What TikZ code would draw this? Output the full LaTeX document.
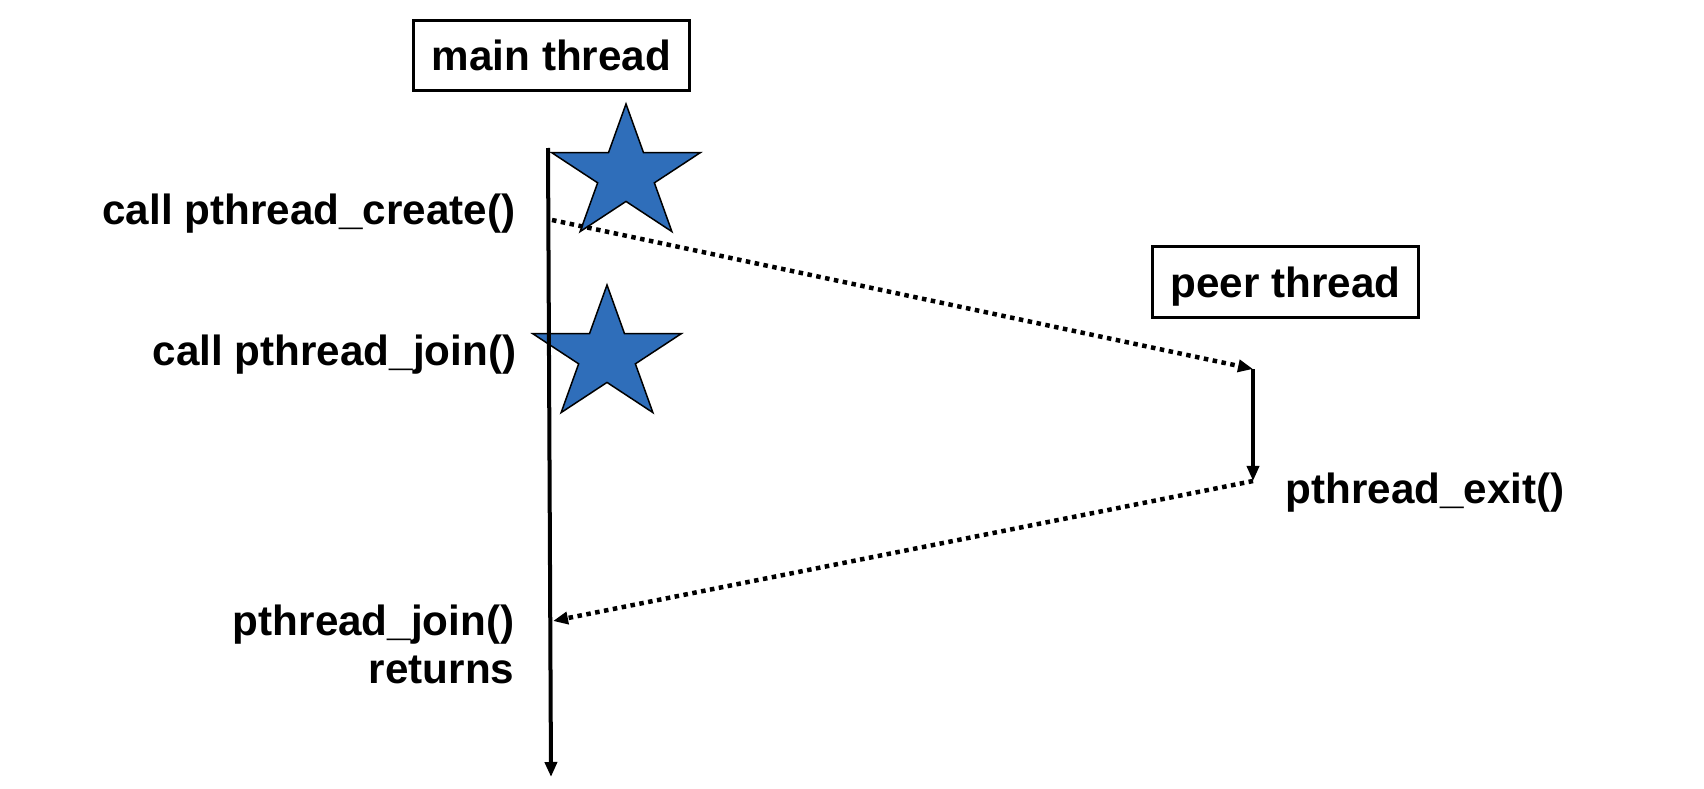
\documentclass[tikz,border=0pt]{standalone}
\usepackage{fontspec}
\setmainfont{Liberation Sans}
\usepackage{tikz}
\usetikzlibrary{arrows.meta,positioning,calc}
\definecolor{starblue}{RGB}{47,110,186}
\tikzset{
	threadbox/.style = {
		draw, 
		rectangle, 
		line width=0.3mm, 
		inner xsep=1.8mm, 
		minimum height=7mm, 
		text depth=0pt, 
		font=\fontsize{12}{14}\selectfont\bfseries
	},
	lbl/.style = {
		font=\fontsize{12}{13.7}\selectfont\bfseries, 
		inner sep=0pt, 
		align=right
	},
	timeline/.style = {
		-{Triangle[length=1.5mm, width=1.2mm]}, 
		line width=0.4mm
	},
	handoff/.style = {
		-{Triangle[length=1.5mm, width=1.2mm]}, 
		line width=0.45mm, 
		dash pattern=on 0.45mm off 0.45mm
	},
	starfill/.style = {
		draw, 
		fill=starblue, 
		line width=0.15mm
	}
}

\begin{document}
\begin{tikzpicture}[x=0.01cm, y=-0.01cm]
		
		\useasboundingbox (0,0) rectangle (1704,788);
		
		% --- Stars ---
		\foreach \cx/\cy in {626/174.5, 607/355.5} {
			\draw[starfill, shift={(\cx,\cy)}]
			(90:7.8mm and 7.05mm) -- (126:2.98mm and 2.69mm) --
			(162:7.8mm and 7.05mm) -- (198:2.98mm and 2.69mm) --
			(234:7.8mm and 7.05mm) -- (270:2.98mm and 2.69mm) --
			(306:7.8mm and 7.05mm) -- (342:2.98mm and 2.69mm) --
			(18:7.8mm and 7.05mm) -- (54:2.98mm and 2.69mm) -- cycle;
		}
		
		% --- Threads ---
		\node [threadbox] (mainthr) at (551.5,55.5) {main thread};
		\node [threadbox] (peerthr) at (1285.5,282) {peer thread};
		
		\coordinate (mtop) at (548,148);
		\coordinate (mend) at (551,777);
		\coordinate (mcreate) at (552,220);
		\coordinate (mjoin) at (553,621);
		\coordinate (pstart) at (1253,369);
		\coordinate (pend) at (1253,481);
		
		% --- Labels ---
		\node [lbl, anchor=east] (create) at (516,214) {call pthread\_create()};
		\node [lbl, anchor=east] (join) at (517,355) {call pthread\_join()};
		\node [lbl, anchor=east] (returns) at (515,644) {pthread\_join()\\returns};
		\node [lbl, anchor=west] (exit) at (1285,493) {pthread\_exit()};
		
		% --- Conexiones ---
		\draw [timeline] (mtop) -- (mend);
		\draw [handoff] (mcreate) -- (pstart);
		\draw [timeline, line width=0.35mm] (pstart) -- (pend);
		\draw [handoff] (pend) -- (mjoin);
		
	\end{tikzpicture}
\end{document}
